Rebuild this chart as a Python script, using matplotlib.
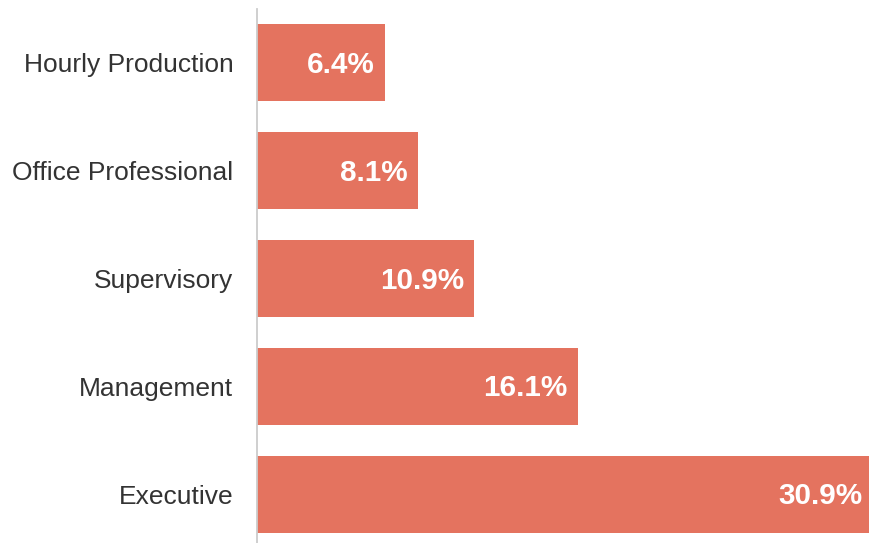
import matplotlib
matplotlib.use("Agg")
import matplotlib.pyplot as plt

categories = ["Hourly Production", "Office Professional", "Supervisory", "Management", "Executive"]
values = [6.4, 8.1, 10.9, 16.1, 30.9]
value_labels = ["6.4%", "8.1%", "10.9%", "16.1%", "30.9%"]

plt.rcParams["font.family"] = ["Liberation Sans", "DejaVu Sans"]

W, H = 869, 543
fig = plt.figure(figsize=(W / 100, H / 100), dpi=100)
ax = fig.add_axes([257 / W, -5 / H, 616 / W, 539 / H])

bar_color = "#E4735F"
pos = list(range(len(categories)))
ax.barh(pos, values, height=0.715, color=bar_color)

ax.set_xlim(0, 30.9)
ax.set_ylim(len(categories) - 0.5, -0.5)
ax.set_yticks(pos)
ax.set_yticklabels(categories, fontsize=19, color="#333333")
ax.tick_params(axis="y", length=0, pad=17)
ax.set_xticks([])

for s in ["top", "right", "bottom"]:
    ax.spines[s].set_visible(False)
ax.spines["left"].set_color("#cccccc")
ax.spines["left"].set_linewidth(1.3)

for p, v, lab in zip(pos, values, value_labels):
    ax.annotate(lab, xy=(v, p), xytext=(-7.5, -1.5), textcoords="offset points",
                ha="right", va="center", color="white", fontsize=21.3,
                fontweight="bold")

fig.savefig("out.png", dpi=100)
